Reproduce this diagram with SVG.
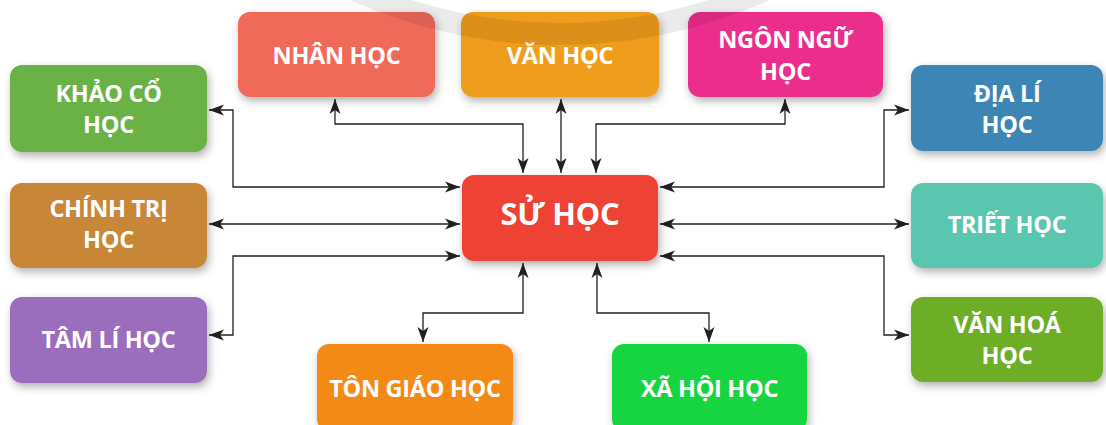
<svg xmlns="http://www.w3.org/2000/svg" width="1106" height="425" viewBox="0 0 1106 425">
  <defs>
    <filter id="shadow" x="-20%" y="-20%" width="140%" height="150%">
      <feDropShadow dx="2" dy="4" stdDeviation="4.5" flood-color="#000" flood-opacity="0.3"/>
    </filter>
    <marker id="head" markerUnits="userSpaceOnUse" markerWidth="16" markerHeight="14" viewBox="0 0 16 14" refX="15" refY="7" orient="auto-start-reverse">
      <path d="M0,1.5 L15,7 L0,12.5 L4,7 Z" fill="#231f20"/>
    </marker>
  </defs>
  <style>
    .box { filter: url(#shadow); }
    .lbl { font-family: "Open Sans", "Liberation Sans", sans-serif; font-weight: 700; font-size: 23.5px; letter-spacing: -0.3px; fill: #ffffff; text-anchor: middle; }
    .main { font-size: 31px; }
    .link { fill: none; stroke: #231f20; stroke-width: 1.3; marker-start: url(#head); marker-end: url(#head); }
  </style>

  <rect width="1106" height="425" fill="#ffffff"/>

  <!-- connectors: every link runs from SỬ HỌC out to one field, arrowheads at both ends -->
  <g id="connectors">
    <path class="link" d="M523,173 V124 H335 V99"/>
    <path class="link" d="M561,173 V99"/>
    <path class="link" d="M596,173 V124 H785 V99"/>
    <path class="link" d="M460,187 H233 V110 H209"/>
    <path class="link" d="M460,224 H209"/>
    <path class="link" d="M460,256 H233 V335 H209"/>
    <path class="link" d="M660,187 H884 V110 H909"/>
    <path class="link" d="M660,224 H909"/>
    <path class="link" d="M660,256 H884 V335 H909"/>
    <path class="link" d="M523,263 V313 H423 V342"/>
    <path class="link" d="M597,263 V313 H709 V342"/>
  </g>

  <g id="nhan-hoc">
    <rect class="box" x="238" y="12" width="197" height="85" rx="12" fill="#f06a5a"/>
    <text class="lbl" x="336.5" y="64">NHÂN HỌC</text>
  </g>
  <g id="van-hoc">
    <rect class="box" x="461" y="12" width="198" height="85" rx="12" fill="#ef9d1c"/>
    <text class="lbl" x="560" y="64">VĂN HỌC</text>
  </g>
  <g id="ngon-ngu-hoc">
    <rect class="box" x="688" y="12" width="195" height="85" rx="12" fill="#eb2f8b"/>
    <text class="lbl" x="785.5" y="48">NGÔN NGỮ</text>
    <text class="lbl" x="785.5" y="80">HỌC</text>
  </g>

  <g id="khao-co-hoc">
    <rect class="box" x="10" y="65" width="197" height="87" rx="12" fill="#6bb244"/>
    <text class="lbl" x="108.5" y="102">KHẢO CỔ</text>
    <text class="lbl" x="108.5" y="133">HỌC</text>
  </g>
  <g id="chinh-tri-hoc">
    <rect class="box" x="10" y="183" width="197" height="85" rx="12" fill="#c88738"/>
    <text class="lbl" x="108.5" y="217">CHÍNH TRỊ</text>
    <text class="lbl" x="108.5" y="248">HỌC</text>
  </g>
  <g id="tam-li-hoc">
    <rect class="box" x="10" y="297" width="197" height="86" rx="12" fill="#9a6dbd"/>
    <text class="lbl" x="108.5" y="348">TÂM LÍ HỌC</text>
  </g>

  <g id="su-hoc">
    <rect class="box" x="462" y="175" width="196" height="86" rx="12" fill="#ee4235"/>
    <text class="lbl main" x="560" y="225">SỬ HỌC</text>
  </g>

  <g id="dia-li-hoc">
    <rect class="box" x="911" y="65" width="192" height="86" rx="12" fill="#3e85b4"/>
    <text class="lbl" x="1007" y="102">ĐỊA LÍ</text>
    <text class="lbl" x="1007" y="133">HỌC</text>
  </g>
  <g id="triet-hoc">
    <rect class="box" x="911" y="183" width="192" height="85" rx="12" fill="#5ac6af"/>
    <text class="lbl" x="1007" y="233">TRIẾT HỌC</text>
  </g>
  <g id="van-hoa-hoc">
    <rect class="box" x="911" y="297" width="192" height="85" rx="12" fill="#6dae27"/>
    <text class="lbl" x="1007" y="333">VĂN HOÁ</text>
    <text class="lbl" x="1007" y="364">HỌC</text>
  </g>

  <g id="ton-giao-hoc">
    <rect class="box" x="317" y="344" width="196" height="87" rx="12" fill="#f38a18"/>
    <text class="lbl" x="415" y="397">TÔN GIÁO HỌC</text>
  </g>
  <g id="xa-hoi-hoc">
    <rect class="box" x="612" y="344" width="195" height="87" rx="12" fill="#13d53f"/>
    <text class="lbl" x="709.5" y="397">XÃ HỘI HỌC</text>
  </g>

  <!-- faint grey ring crossing the top edge -->
  <circle cx="560" cy="-465" r="499" fill="none" stroke="#000" stroke-opacity="0.08" stroke-width="22"/>
</svg>
